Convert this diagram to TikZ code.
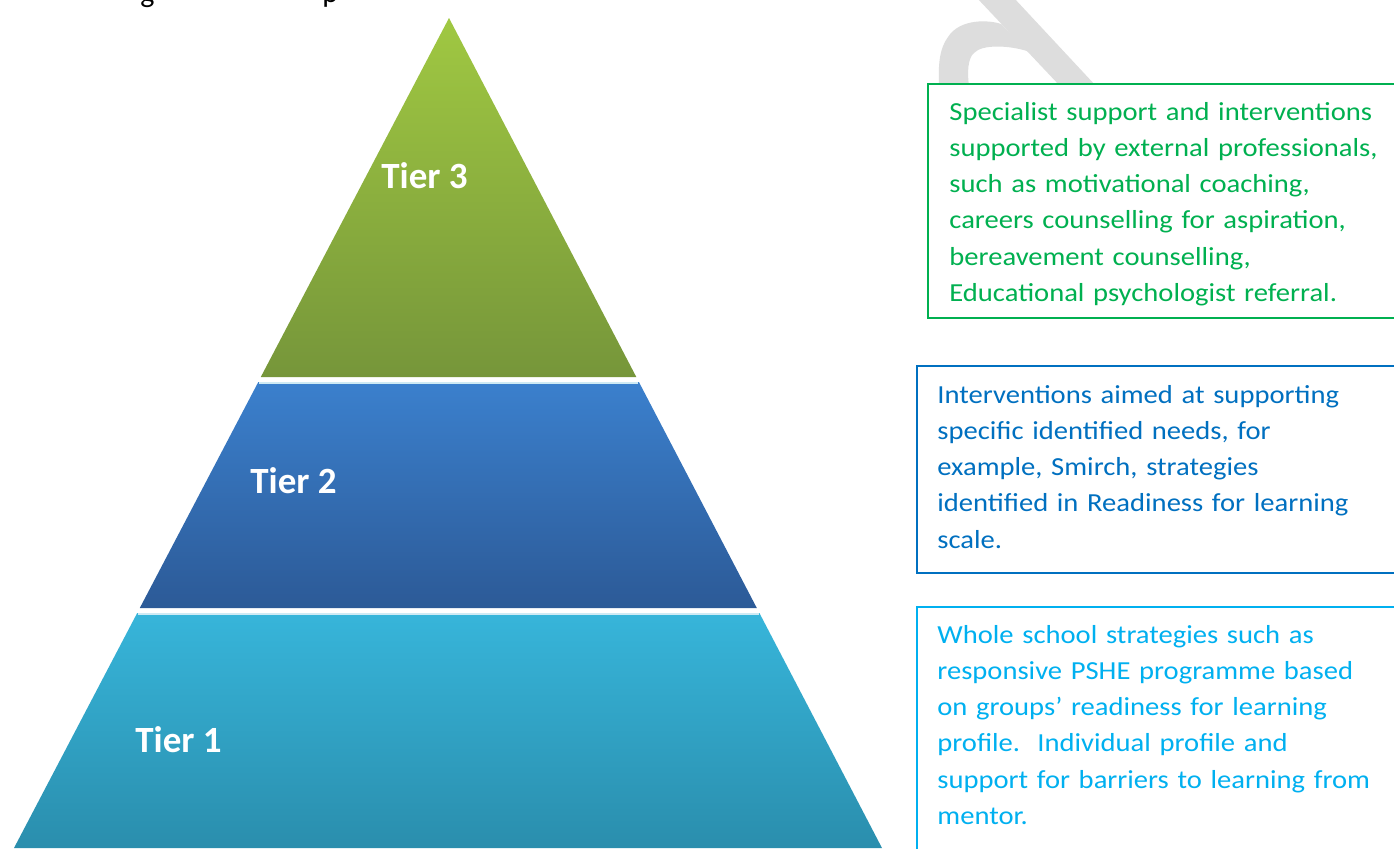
\documentclass[tikz,border=0pt]{standalone}
\usepackage{fontspec}
\setmainfont{Carlito}
\newfontfamily\descfont{Carlito}[FakeStretch=1.10]
\definecolor{greenA}{HTML}{A0C842}
\definecolor{greenB}{HTML}{76963A}
\definecolor{blueA}{HTML}{3B80CD}
\definecolor{blueB}{HTML}{2C5A97}
\definecolor{cyanA}{HTML}{37B5DA}
\definecolor{cyanB}{HTML}{2A8EAD}
\definecolor{txtgreen}{HTML}{00B050}
\definecolor{txtblue}{HTML}{0070C0}
\definecolor{txtcyan}{HTML}{00B0F0}
\definecolor{wmgrey}{HTML}{DDDDDD}
\definecolor{seam}{HTML}{CFEAF4}
\begin{document}
\begin{tikzpicture}[x=0.5pt,y=-0.5pt,
  tierlabel/.style={text=white,font=\fontsize{18.5}{22}\selectfont\bfseries,inner sep=0pt,anchor=base west},
  infobox/.style={draw=#1,line width=1pt,fill=white,anchor=north west,inner sep=0pt,minimum width=240pt},
  infotext/.style={text=#1,font=\descfont\fontsize{13}{18.15}\selectfont,align=left,text width=240pt,inner sep=0pt,anchor=base west},
  seamline/.style={draw=seam,line width=1pt}]
\useasboundingbox (0,0) rectangle (1394,848);
\begin{scope}
\clip (0,0) rectangle (1394,848);
\fill[white] (0,0) rectangle (1394,848);

% descenders of the line above, cut off by the top edge
\node[anchor=base west,inner sep=0pt,font=\fontsize{15}{15}\selectfont] (frag1) at (140,2) {g};
\node[anchor=base west,inner sep=0pt,font=\fontsize{15}{15}\selectfont] (frag2) at (322,2) {p};

% faint watermark stroke
\fill[wmgrey] (977,-2) -- (1014,-2) -- (1096,86) -- (1060,86) -- cycle;
\fill[wmgrey] (1001,24) .. controls (990,20) and (960,18) .. (948,37)
  .. controls (940,48) and (938,62) .. (939,86) -- (969,86)
  .. controls (967,72) and (968,58) .. (974,53)
  .. controls (982,44) and (1010,45) .. (1030,52) -- cycle;

% pyramid tiers
\shade[top color=greenA,bottom color=greenB] (449,18) -- (636.3,377) -- (260.8,377) -- cycle;
\shade[top color=blueA,bottom color=blueB] (258.3,382) -- (638.9,382) -- (756.8,608) -- (139.8,608) -- cycle;
\shade[top color=cyanA,bottom color=cyanB] (137.2,613) -- (759.4,613) -- (882,848) -- (14,848) -- cycle;
\draw[seamline] (258.8,383) -- (638.4,383);
\draw[seamline] (137.7,614) -- (758.9,614);

\node[tierlabel] (tier3) at (381,188) {Tier 3};
\node[tierlabel] (tier2) at (250,493) {Tier 2};
\node[tierlabel] (tier1) at (135,752) {Tier 1};

% description boxes
\node[infobox=txtgreen,minimum height=117pt] (box3) at (927,83) {};
\node[infobox=txtblue,minimum height=103.5pt] (box2) at (916,365) {};
\node[infobox=txtcyan,minimum height=130pt] (box1) at (916,606) {};

\node[infotext=txtgreen] (desc3) at (949,120) {Specialist support and interventions\\
supported by external professionals,\\
such as motivational coaching,\\
careers counselling for aspiration,\\
bereavement counselling,\\
Educational psychologist referral.};

\node[infotext=txtblue] (desc2) at (937,403) {Interventions aimed at supporting\\
specific identified needs, for\\
example, Smirch, strategies\\
identified in Readiness for learning\\
scale.};

\node[infotext=txtcyan] (desc1) at (937,643) {Whole school strategies such as\\
responsive PSHE programme based\\
on groups’ readiness for learning\\
profile.\ \ Individual profile and\\
support for barriers to learning from\\
mentor.};
\end{scope}
\end{tikzpicture}
\end{document}
